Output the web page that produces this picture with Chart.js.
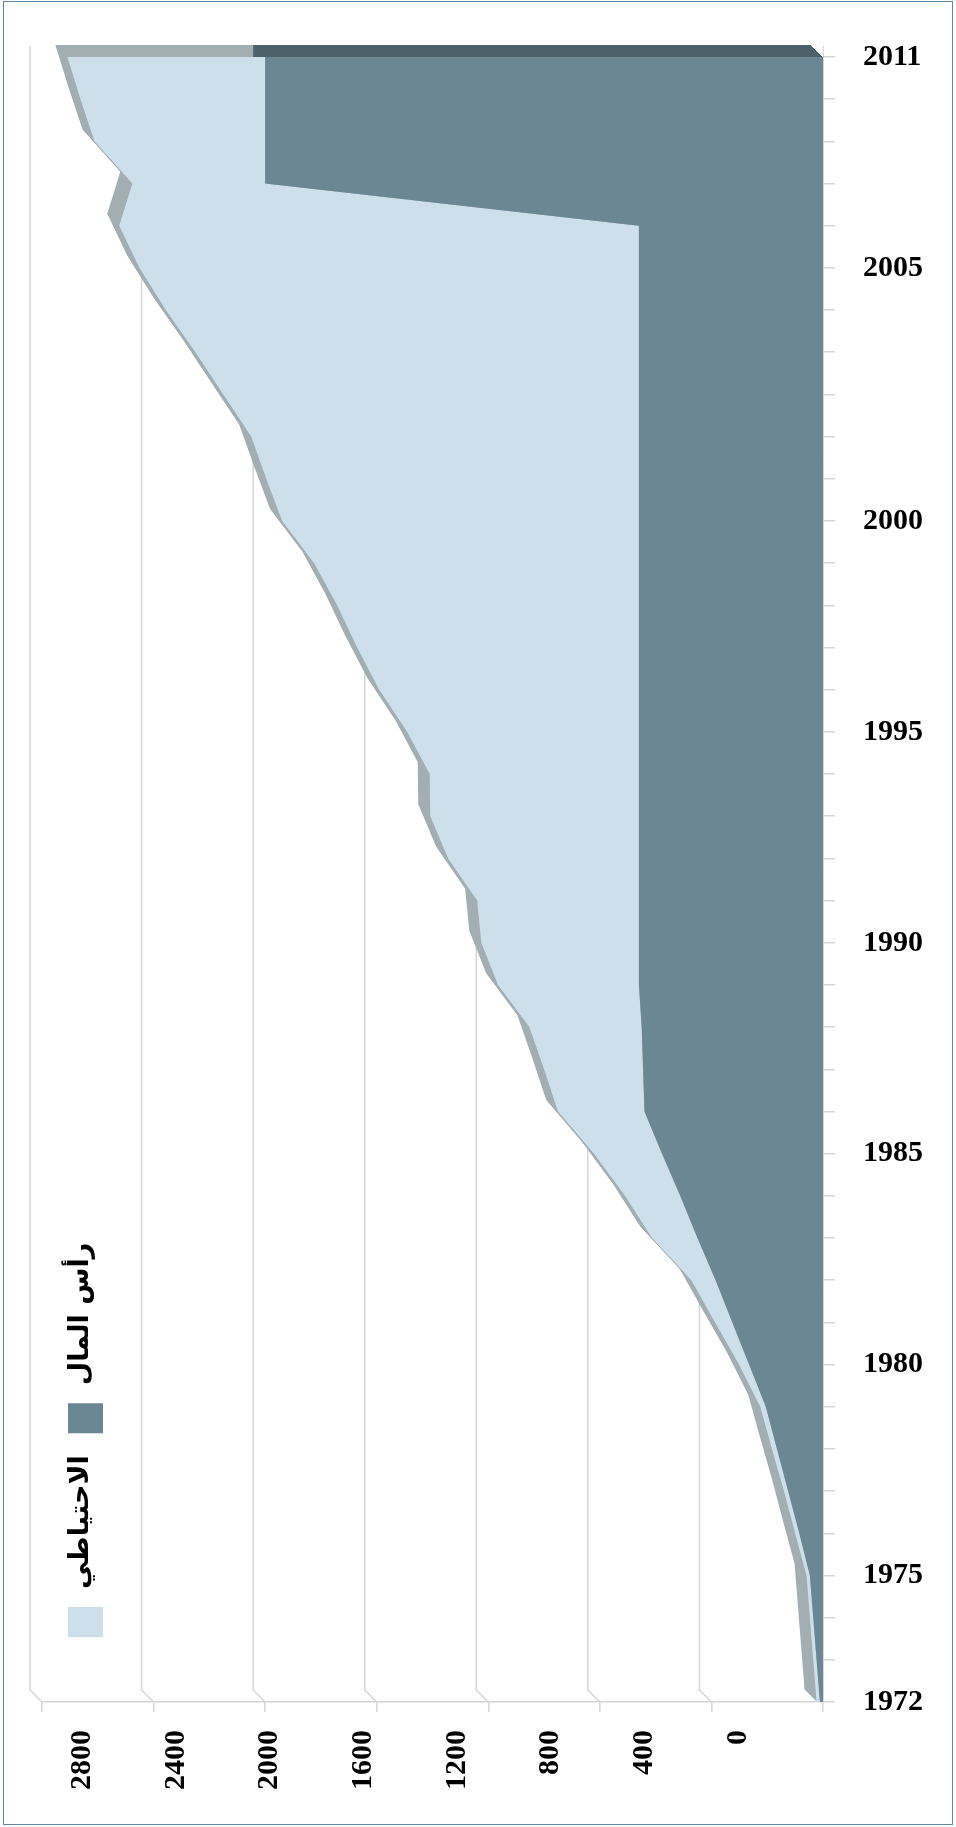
<!DOCTYPE html>
<html lang="ar">
<head>
<meta charset="utf-8">
<title>رأس المال والاحتياطي 1972-2011</title>
<script src="https://cdn.jsdelivr.net/npm/chart.js@4.4.1/dist/chart.umd.min.js"></script>
<style>
    html, body { margin: 0; padding: 0; background: #ffffff; }
    #wrap { position: relative; width: 956px; height: 1827px; overflow: hidden; }
    #chart { position: absolute; left: 0; top: 0; }
    #frame {
        position: absolute; left: 3px; top: 1px; width: 950px; height: 1824px;
        box-sizing: border-box; border: 1.5px solid #5d87a6; pointer-events: none;
    }
</style>
</head>
<body>
<div id="wrap">
    <canvas id="chart" width="956" height="1827"></canvas>
    <div id="frame"></div>
</div>
<script>
// Years on the category axis
const years = [
    1972, 1973, 1974, 1975, 1976, 1977, 1978, 1979, 1980, 1981,
    1982, 1983, 1984, 1985, 1986, 1987, 1988, 1989, 1990, 1991,
    1992, 1993, 1994, 1995, 1996, 1997, 1998, 1999, 2000, 2001,
    2002, 2003, 2004, 2005, 2006, 2007, 2008, 2009, 2010, 2011
];

// Tick labels shown next to the year ticks (as printed on the original)
const yearLabels = [
    '1972', '', '', '1975', '', '', '', '', '1980', '',
    '', '', '', '1985', '', '', '', '', '1990', '',
    '', '', '', '1995', '', '', '', '', '2000', '',
    '', '', '', '', '2005', '', '', '', '', '2011'
];

// رأس المال
const capital = [
    11, 23, 35, 47, 85, 125, 165, 205, 265, 325,
    385, 450, 512, 577, 640, 645, 650, 660, 660, 660,
    660, 660, 660, 660, 660, 660, 660, 660, 660, 660,
    660, 660, 660, 660, 660, 660, 2000, 2000, 2000, 2000
];

// الاحتياطي (stacked on top of capital)
const reserve = [
    12, 12, 12, 12, 15, 15, 18, 20, 36, 62,
    87, 163, 198, 244, 310, 355, 403, 505, 565, 580,
    684, 748, 750, 831, 931, 1010, 1082, 1164, 1279, 1336,
    1390, 1490, 1590, 1696, 1791, 1863, 476, 612, 662, 709
];

const valueTicks = [0, 400, 800, 1200, 1600, 2000, 2400, 2800];
const seriesNames = ['رأس المال', 'الاحتياطي'];

const DARK = '#6b8794';
const LIGHT = '#cddfea';
const SIDE = '#a3aeb3';
const DARK_SIDE = '#4d616b';
const GRID = '#d6d6d6';
const DEPTH = 12;
const numberFont = { family: '"Liberation Serif", "Times New Roman", serif', size: 30, weight: 'bold' };

// Back wall grid + 3-D side faces of the areas
const depthPlugin = {
    id: 'depth',
    beforeDatasetsDraw(chart) {
        const ctx = chart.ctx;
        const xs = chart.scales.x;
        const ys = chart.scales.y;
        const area = chart.chartArea;
        const base = xs.getPixelForValue(0);
        const capPts = chart.getDatasetMeta(0).data;
        const totPts = chart.getDatasetMeta(1).data;
        const lastY = ys.getPixelForValue(years[years.length - 1]);

        ctx.save();
        ctx.strokeStyle = GRID;
        ctx.lineWidth = 1.5;
        valueTicks.forEach(v => {
            const x = xs.getPixelForValue(v);
            ctx.beginPath();
            ctx.moveTo(x - DEPTH, area.top);
            ctx.lineTo(x - DEPTH, area.bottom - DEPTH);
            ctx.lineTo(x, area.bottom);
            ctx.stroke();
        });

        const shape = (pts) => {
            ctx.beginPath();
            ctx.moveTo(base, pts[0].y);
            pts.forEach(p => ctx.lineTo(p.x, p.y));
            ctx.lineTo(base, pts[pts.length - 1].y);
            ctx.closePath();
        };

        ctx.fillStyle = SIDE;
        for (let k = 1; k <= DEPTH; k++) {
            ctx.save();
            ctx.translate(-k, -k);
            shape(totPts);
            ctx.fill();
            ctx.restore();
        }

        // top face of the capital band at the last year
        ctx.beginPath();
        ctx.rect(0, 0, chart.width, lastY);
        ctx.clip();
        ctx.fillStyle = DARK_SIDE;
        for (let k = 1; k <= DEPTH; k++) {
            ctx.save();
            ctx.translate(-k, -k);
            shape(capPts);
            ctx.fill();
            ctx.restore();
        }
        ctx.restore();
    }
};

// Legend drawn vertically like the original
const legendPlugin = {
    id: 'verticalLegend',
    afterDraw(chart) {
        const ctx = chart.ctx;
        const cx = 85;
        let y = 1637;
        ctx.save();
        ctx.font = 'bold 27px "DejaVu Sans", sans-serif';
        [1, 0].forEach(i => {
            const ds = chart.data.datasets[i];
            ctx.fillStyle = ds.backgroundColor;
            ctx.fillRect(cx - 17, y - 30, 35, 30);
            y -= 30 + 18;
            const w = ctx.measureText(ds.label).width;
            ctx.save();
            ctx.translate(cx - 4, y - w / 2);
            ctx.rotate(-Math.PI / 2);
            ctx.fillStyle = '#000000';
            ctx.textAlign = 'center';
            ctx.textBaseline = 'middle';
            ctx.fillText(ds.label, 0, 0);
            ctx.restore();
            y -= w + 22;
        });
        ctx.restore();
    }
};

function buildChart() {
    const ctx = document.getElementById('chart');

    new Chart(ctx, {
        type: 'line',
        data: {
            datasets: [
                {
                    label: seriesNames[0],
                    data: years.map((yr, i) => ({ x: capital[i], y: yr })),
                    xAxisID: 'x',
                    yAxisID: 'y',
                    backgroundColor: DARK,
                    borderWidth: 0,
                    pointRadius: 0,
                    fill: 'origin'
                },
                {
                    label: seriesNames[1],
                    data: years.map((yr, i) => ({ x: reserve[i], y: yr })),
                    xAxisID: 'x',
                    yAxisID: 'y',
                    backgroundColor: LIGHT,
                    borderWidth: 0,
                    pointRadius: 0,
                    fill: '-1'
                }
            ]
        },
        options: {
            indexAxis: 'y',
            responsive: false,
            animation: false,
            layout: { padding: { left: 42, top: 45, right: 0, bottom: 0 } },
            plugins: {
                legend: { display: false },
                tooltip: { enabled: false }
            },
            scales: {
                x: {
                    type: 'linear',
                    position: 'bottom',
                    reverse: true,
                    stacked: true,
                    bounds: 'data',
                    min: 0,
                    max: 2800,
                    afterBuildTicks: s => { s.ticks = valueTicks.map(v => ({ value: v })); },
                    afterFit: s => { s.height = 10; },
                    grid: { drawOnChartArea: false, tickLength: 10, color: GRID, lineWidth: 1.5 },
                    border: { display: true, color: GRID, width: 1.5 },
                    ticks: { display: false }
                },
                // label row of the value axis, printed slightly off the tick marks
                xLabels: {
                    axis: 'x',
                    type: 'linear',
                    position: 'bottom',
                    weight: 1,
                    reverse: true,
                    bounds: 'data',
                    min: -363,
                    max: 2971,
                    afterBuildTicks: s => { s.ticks = valueTicks.map(v => ({ value: v })); },
                    afterFit: s => { s.height = 115; },
                    grid: { display: false, drawTicks: false },
                    border: { display: false },
                    ticks: {
                        font: numberFont,
                        color: '#000000',
                        minRotation: 90,
                        maxRotation: 90,
                        padding: 18,
                        autoSkip: false,
                        callback: value => String(value)
                    }
                },
                y: {
                    type: 'linear',
                    position: 'right',
                    bounds: 'data',
                    min: 1972,
                    max: 2011.26,
                    afterBuildTicks: s => { s.ticks = years.map(v => ({ value: v })); },
                    afterFit: s => { s.width = 133; },
                    grid: { drawOnChartArea: false, tickLength: 12, color: GRID, lineWidth: 1.5 },
                    border: { display: true, color: GRID },
                    ticks: {
                        autoSkip: false,
                        padding: 28,
                        font: numberFont,
                        color: '#000000',
                        callback: (value, index) => yearLabels[index]
                    }
                }
            }
        },
        plugins: [depthPlugin, legendPlugin]
    });
}

document.addEventListener('DOMContentLoaded', buildChart);
</script>
</body>
</html>
